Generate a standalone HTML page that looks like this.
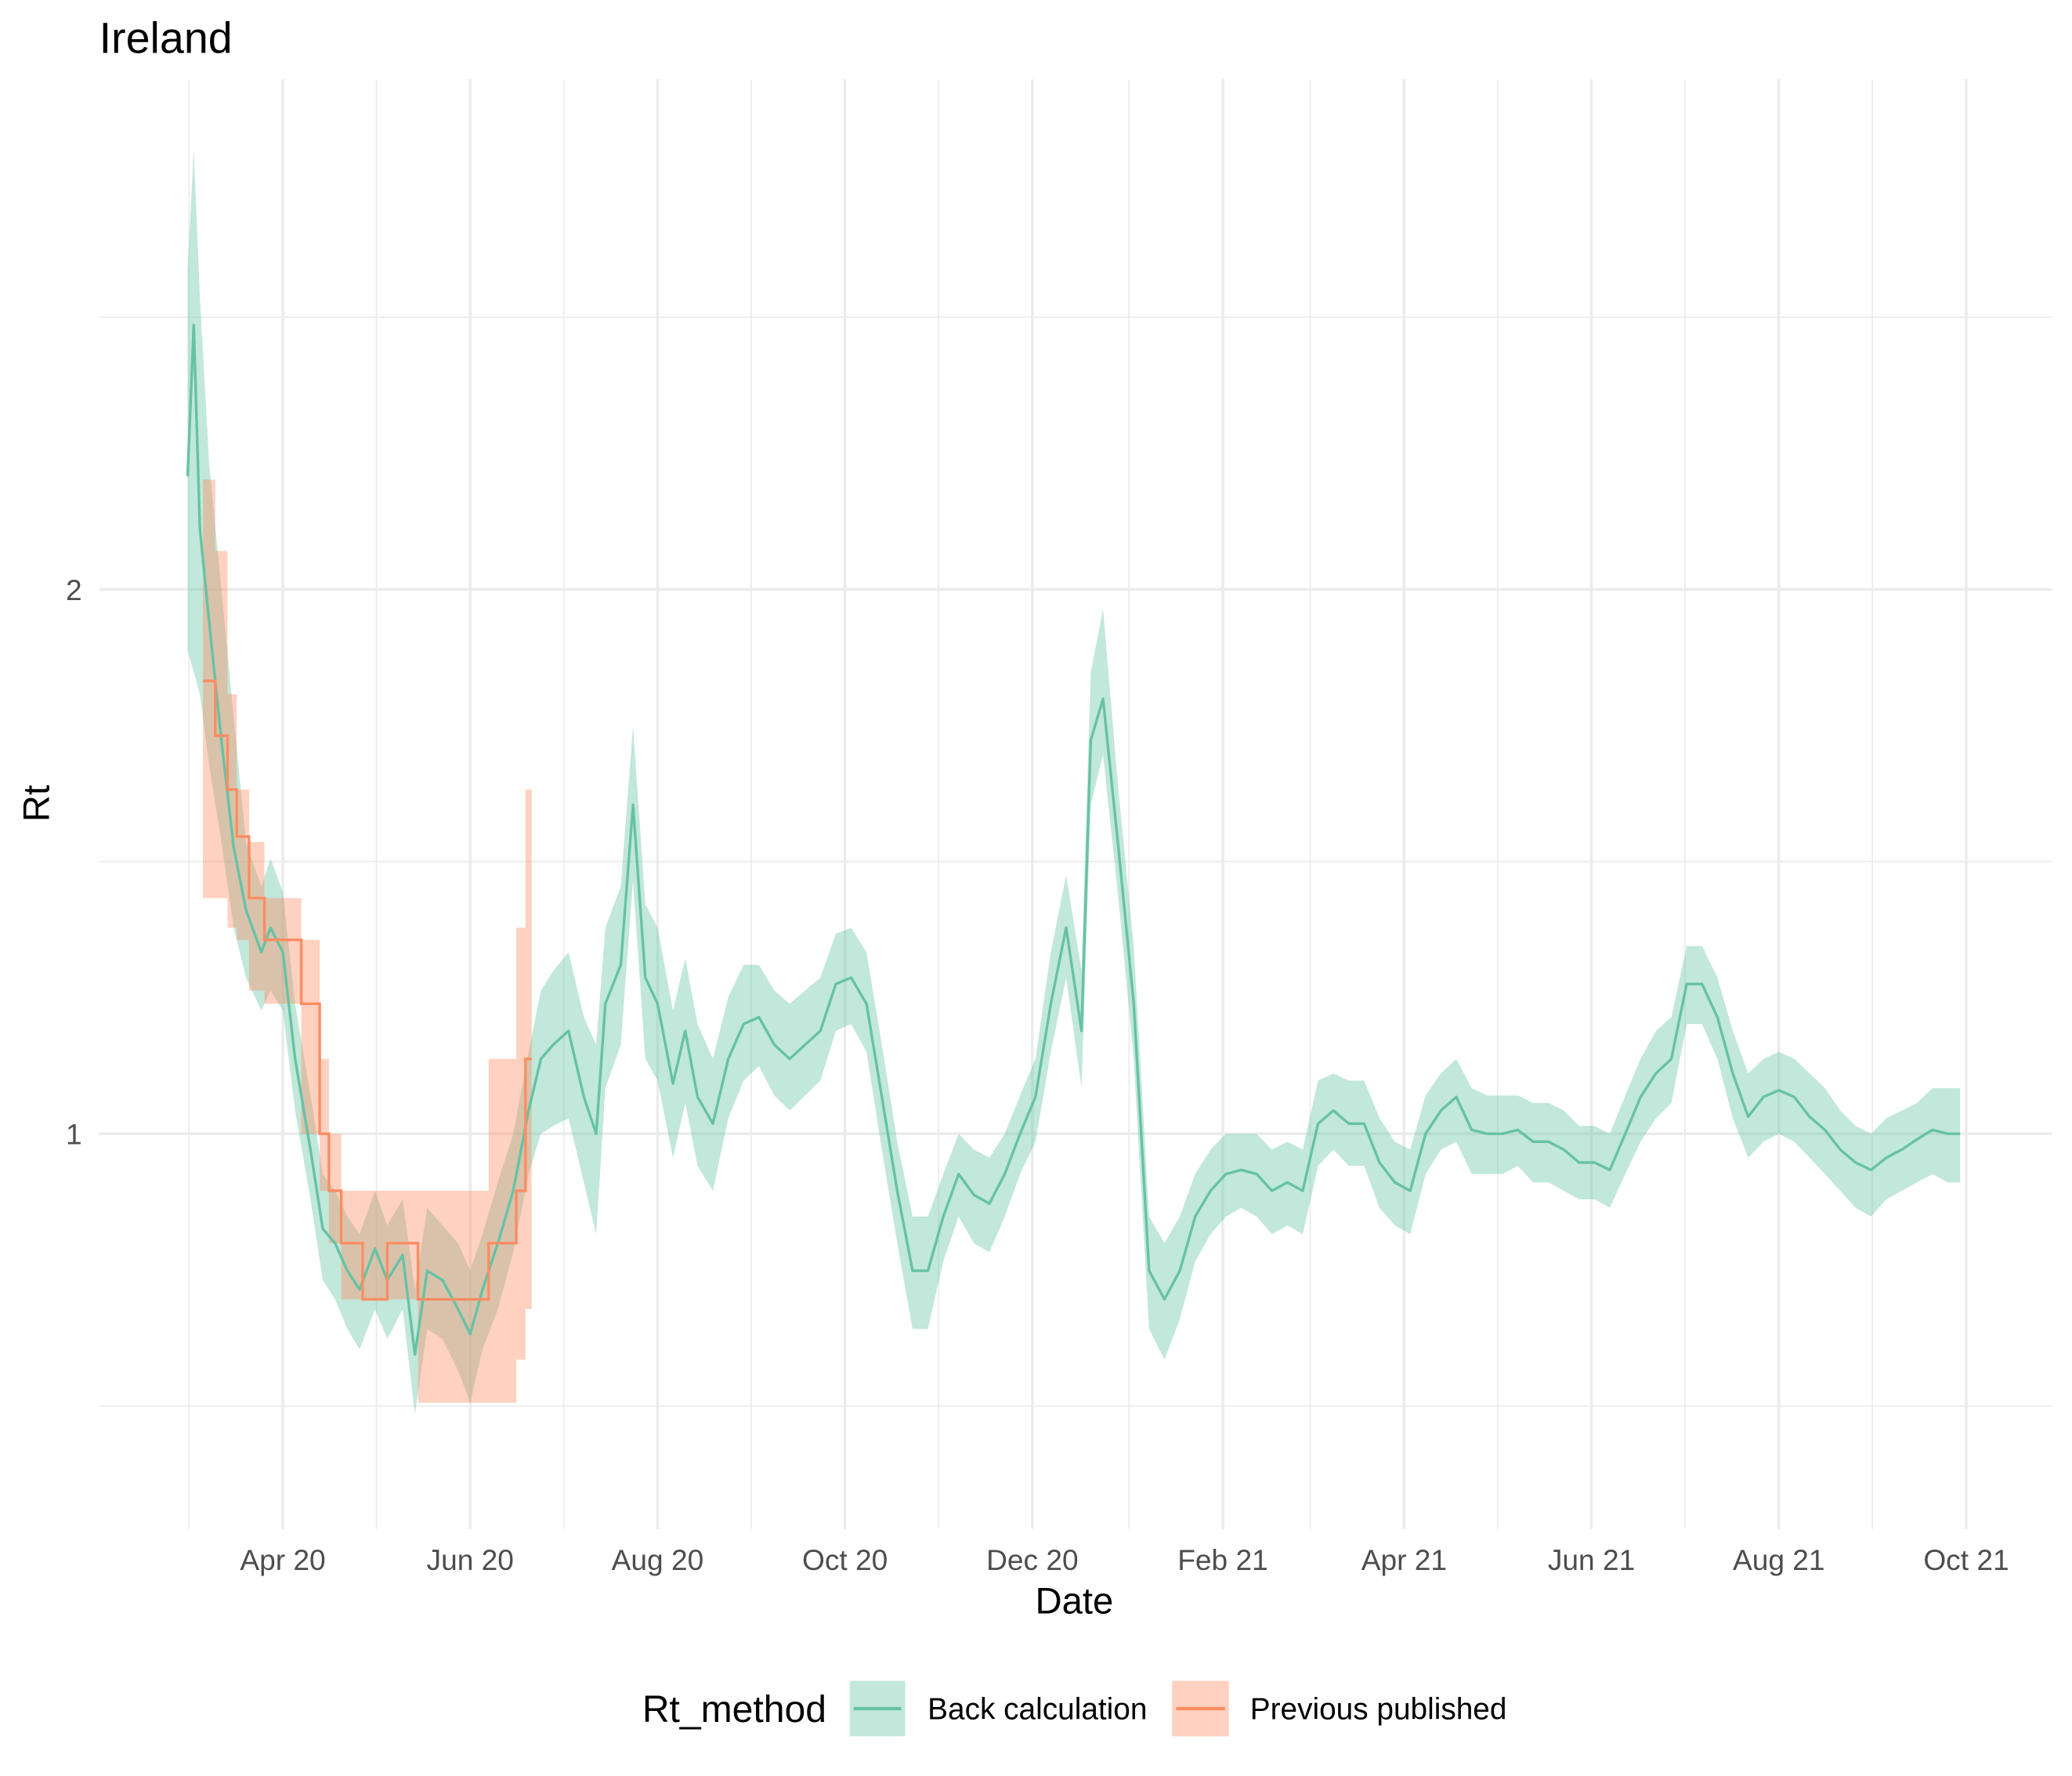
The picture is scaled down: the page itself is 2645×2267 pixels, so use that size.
<!DOCTYPE html>
<html><head><meta charset="utf-8"><style>
html,body{margin:0;padding:0;background:#fff;}
svg{display:block;font-family:"Liberation Sans",Arial,sans-serif;}
</style></head><body>
<svg id="chart" width="2645" height="2267" viewBox="0 0 1568 1344" xmlns="http://www.w3.org/2000/svg">
<rect x="0" y="0" width="1568" height="1344" fill="#fff"/>
<g id="grid"></g>
<g id="marks"></g>
<g id="axes"></g>
<text x="75" y="40" font-size="33" fill="#000">Ireland</text>
<text x="813" y="1221" font-size="28" text-anchor="middle" fill="#000">Date</text>
<text x="0" y="0" font-size="28" text-anchor="middle" fill="#000" transform="translate(37,608) rotate(-90)">Rt</text>
<g>
<text x="486" y="1303" font-size="28.5" fill="#000">Rt_method</text>
<g>
<rect x="643" y="1272" width="42" height="42" fill="#66c2a5" fill-opacity="0.4"/>
<line x1="646" y1="1293" x2="682" y2="1293" stroke="#66c2a5" stroke-width="2.5"/>
<text x="702" y="1301" font-size="23" fill="#000">Back calculation</text>
</g>
<g>
<rect x="887" y="1272" width="43" height="42" fill="#fc8d62" fill-opacity="0.4"/>
<line x1="890" y1="1293" x2="927" y2="1293" stroke="#fc8d62" stroke-width="2.5"/>
<text x="946" y="1301" font-size="23" fill="#000">Previous published</text>
</g>
</g>
</svg>
<script>
// ---- data ----
const bcDates = ["2020-03-01","2020-03-03","2020-03-05","2020-03-08","2020-03-12","2020-03-16","2020-03-20","2020-03-25","2020-03-28","2020-04-01","2020-04-05","2020-04-10","2020-04-14","2020-04-18","2020-04-22","2020-04-26","2020-05-01","2020-05-05","2020-05-10","2020-05-14","2020-05-18","2020-05-23","2020-05-28","2020-06-01","2020-06-05","2020-06-10","2020-06-15","2020-06-20","2020-06-24","2020-06-28","2020-07-03","2020-07-08","2020-07-12","2020-07-15","2020-07-20","2020-07-24","2020-07-28","2020-08-01","2020-08-06","2020-08-10","2020-08-14","2020-08-19","2020-08-24","2020-08-29","2020-09-03","2020-09-08","2020-09-13","2020-09-18","2020-09-23","2020-09-28","2020-10-03","2020-10-08","2020-10-13","2020-10-18","2020-10-23","2020-10-28","2020-11-02","2020-11-07","2020-11-12","2020-11-17","2020-11-22","2020-11-27","2020-12-02","2020-12-07","2020-12-12","2020-12-17","2020-12-20","2020-12-24","2020-12-29","2021-01-03","2021-01-08","2021-01-13","2021-01-18","2021-01-23","2021-01-28","2021-02-02","2021-02-07","2021-02-12","2021-02-17","2021-02-22","2021-02-27","2021-03-04","2021-03-09","2021-03-14","2021-03-19","2021-03-24","2021-03-29","2021-04-03","2021-04-08","2021-04-13","2021-04-18","2021-04-23","2021-04-28","2021-05-03","2021-05-08","2021-05-13","2021-05-18","2021-05-23","2021-05-28","2021-06-02","2021-06-07","2021-06-12","2021-06-17","2021-06-22","2021-06-27","2021-07-02","2021-07-07","2021-07-12","2021-07-17","2021-07-22","2021-07-27","2021-08-01","2021-08-06","2021-08-11","2021-08-16","2021-08-21","2021-08-26","2021-08-31","2021-09-05","2021-09-10","2021-09-15","2021-09-20","2021-09-25","2021-09-29"];
const bcMean = [2.31,2.8,2.16,1.92,1.65,1.44,1.33,1.26,1.3,1.26,1.1,0.98,0.886,0.87,0.84,0.82,0.864,0.83,0.857,0.755,0.84,0.83,0.8,0.775,0.82,0.87,0.93,1.03,1.1,1.12,1.14,1.048,1.0,1.18,1.24,1.52,1.22,1.18,1.066,1.14,1.048,1.013,1.1,1.15,1.16,1.12,1.1,1.12,1.14,1.21,1.22,1.18,1.048,0.93,0.84,0.84,0.9,0.95,0.925,0.915,0.95,1.0,1.048,1.18,1.3,1.14,1.65,1.74,1.44,1.18,0.84,0.81,0.84,0.9,0.93,0.95,0.955,0.95,0.93,0.94,0.93,1.013,1.03,1.013,1.013,0.964,0.94,0.93,1.0,1.03,1.048,1.005,1.0,1.0,1.005,0.99,0.99,0.98,0.964,0.964,0.955,1.0,1.048,1.08,1.1,1.21,1.21,1.16,1.08,1.022,1.048,1.057,1.048,1.022,1.005,0.98,0.964,0.955,0.97,0.98,0.993,1.005,1.0,1.0];
const bcLower = [1.85,1.8,1.75,1.6,1.45,1.3,1.22,1.17,1.2,1.17,1.03,0.92,0.83,0.81,0.78,0.76,0.8,0.77,0.8,0.7,0.78,0.77,0.74,0.71,0.76,0.8,0.86,0.95,1.0,1.01,1.02,0.94,0.88,1.06,1.12,1.38,1.1,1.07,0.97,1.04,0.96,0.93,1.02,1.07,1.09,1.05,1.03,1.05,1.07,1.14,1.15,1.11,0.98,0.87,0.78,0.78,0.85,0.9,0.87,0.86,0.9,0.95,0.99,1.11,1.22,1.06,1.52,1.62,1.35,1.1,0.78,0.75,0.79,0.85,0.88,0.9,0.91,0.9,0.88,0.89,0.88,0.96,0.98,0.96,0.96,0.91,0.89,0.88,0.95,0.98,0.99,0.95,0.95,0.95,0.96,0.94,0.94,0.93,0.92,0.92,0.91,0.95,0.99,1.02,1.04,1.15,1.15,1.1,1.02,0.97,0.99,1.0,0.99,0.97,0.95,0.93,0.91,0.9,0.92,0.93,0.94,0.95,0.94,0.94];
const bcUpper = [3.0,3.5,2.9,2.35,2.0,1.7,1.45,1.37,1.42,1.36,1.18,1.05,0.95,0.93,0.9,0.88,0.93,0.89,0.92,0.82,0.91,0.89,0.87,0.84,0.88,0.94,1.0,1.11,1.2,1.23,1.26,1.16,1.12,1.3,1.37,1.68,1.34,1.3,1.17,1.25,1.15,1.1,1.19,1.24,1.24,1.2,1.18,1.2,1.22,1.29,1.3,1.26,1.12,0.99,0.9,0.9,0.95,1.0,0.98,0.97,1.0,1.05,1.1,1.26,1.39,1.23,1.8,1.95,1.55,1.27,0.9,0.87,0.9,0.95,0.98,1.0,1.0,1.0,0.98,0.99,0.98,1.07,1.08,1.07,1.07,1.02,0.99,0.98,1.05,1.08,1.1,1.06,1.05,1.05,1.05,1.04,1.04,1.03,1.01,1.01,1.0,1.05,1.1,1.14,1.16,1.27,1.27,1.22,1.14,1.08,1.1,1.11,1.1,1.08,1.06,1.03,1.01,1.0,1.02,1.03,1.04,1.06,1.06,1.06];
const ppDates = ["2020-03-06","2020-03-10","2020-03-14","2020-03-17","2020-03-21","2020-03-26","2020-04-07","2020-04-13","2020-04-16","2020-04-20","2020-04-27","2020-05-05","2020-05-15","2020-06-07","2020-06-16","2020-06-19","2020-06-21"];
const ppMean = [1.78,1.66,1.55,1.46,1.35,1.28,1.18,1.0,0.93,0.87,0.81,0.87,0.81,0.87,0.93,1.1,1.1];
const ppLower = [1.35,1.35,1.3,1.28,1.2,1.18,1.0,0.93,0.87,0.81,0.81,0.81,0.71,0.71,0.75,0.8,0.8];
const ppUpper = [2.3,2.1,1.75,1.55,1.45,1.35,1.28,1.1,1.0,0.93,0.93,0.93,0.93,1.1,1.3,1.55,1.55];
const xTickLabels = ["Apr 20","Jun 20","Aug 20","Oct 20","Dec 20","Feb 21","Apr 21","Jun 21","Aug 21","Oct 21"];
const xTickDates = ["2020-04-01","2020-06-01","2020-08-01","2020-10-01","2020-12-01","2021-02-01","2021-04-01","2021-06-01","2021-08-01","2021-10-01"];
const yTickValues = [1,2];
const yMinorValues = [0.7071,1.4142,2.8284];

// ---- scales ----
const NS="http://www.w3.org/2000/svg";
const t0 = Date.UTC(2020,3,1), pxPerDay = 1274/548;
function days(s){const p=s.split("-");return (Date.UTC(+p[0],+p[1]-1,+p[2])-t0)/86400000;}
function xs(s){return 214 + days(s)*pxPerDay;}
function ys(v){return 858 - 412*Math.log2(v);}
function mk(tag,attrs,parent){const e=document.createElementNS(NS,tag);for(const k in attrs)e.setAttribute(k,attrs[k]);parent.appendChild(e);return e;}
const grid=document.getElementById("grid"), marks=document.getElementById("marks"), axes=document.getElementById("axes");
const L=75,R=1553,T=60,B=1157;

yMinorValues.forEach(v=>{const e=mk("line",{x1:L,x2:R,y1:ys(v),y2:ys(v),stroke:"#ebebeb","stroke-width":1},grid);

});
yTickValues.forEach(v=>{const e=mk("line",{x1:L,x2:R,y1:ys(v),y2:ys(v),stroke:"#ebebeb","stroke-width":2},grid);


const t=mk("text",{x:62,y:ys(v)+8,"font-size":22,"text-anchor":"end",fill:"#4d4d4d"},axes);t.textContent=String(v);

});
xTickDates.forEach((d,i)=>{const x=xs(d);
const e=mk("line",{x1:x,x2:x,y1:T,y2:B,stroke:"#ebebeb","stroke-width":2},grid);


const xm=x-71;const m=mk("line",{x1:xm,x2:xm,y1:T,y2:B,stroke:"#ebebeb","stroke-width":1},grid);


const t=mk("text",{x:x,y:1188,"font-size":22,"text-anchor":"middle",fill:"#4d4d4d"},axes);t.textContent=xTickLabels[i];

});

let up=bcDates.map((d,i)=>xs(d)+","+ys(bcUpper[i])), lo=bcDates.map((d,i)=>xs(d)+","+ys(bcLower[i])).reverse();
const bcR=mk("polygon",{points:up.concat(lo).join(" "),fill:"#66c2a5","fill-opacity":0.4},marks);



function stepPts(vals){const pts=[];for(let i=0;i<ppDates.length;i++){const x=xs(ppDates[i]);if(i>0)pts.push(x+","+ys(vals[i-1]));pts.push(x+","+ys(vals[i]));}return pts;}
const pu=stepPts(ppUpper), pl=stepPts(ppLower).reverse();
const ppR=mk("polygon",{points:pu.concat(pl).join(" "),fill:"#fc8d62","fill-opacity":0.4},marks);



const bcL=mk("polyline",{points:bcDates.map((d,i)=>xs(d)+","+ys(bcMean[i])).join(" "),fill:"none",stroke:"#66c2a5","stroke-width":2,"stroke-linejoin":"round"},marks);


const ppL=mk("polyline",{points:stepPts(ppMean).join(" "),fill:"none",stroke:"#fc8d62","stroke-width":2},marks);


</script>
</body></html>
